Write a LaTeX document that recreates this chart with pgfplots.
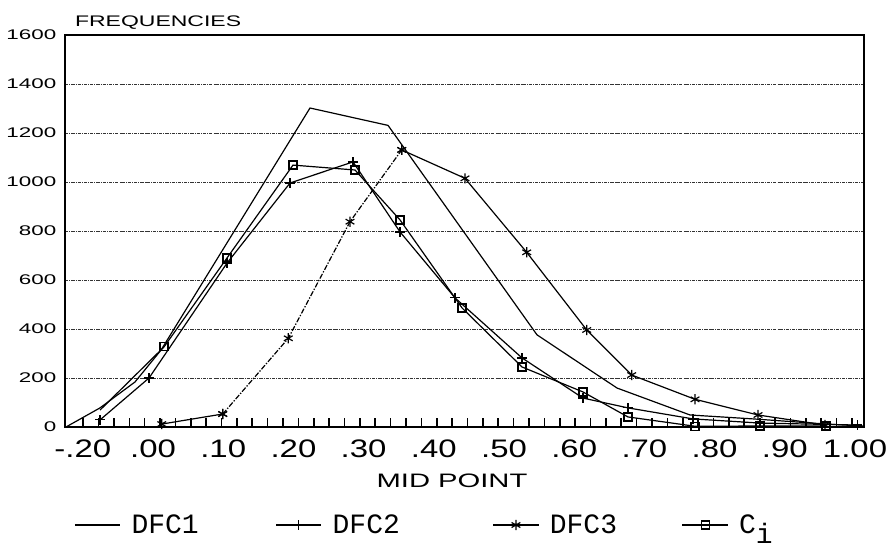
\documentclass[border=0pt]{standalone}
\usepackage{fontspec}
\setmainfont{Liberation Sans}
\newfontfamily\ytfont[FakeStretch=1.6]{Liberation Sans}
\newfontfamily\xtfont[FakeStretch=1.3]{Liberation Sans}
\newfontfamily\lbfont[FakeStretch=1.5]{Liberation Sans}
\newfontfamily\lgfont{Liberation Mono}
\usepackage{pgfplots}
\pgfplotsset{compat=1.18}
\begin{document}
\begin{tikzpicture}
\useasboundingbox (-48.75pt,-91.5pt) rectangle (621pt,320.25pt);
\begin{axis}[
 name=ax, at={(0,0)}, anchor=south west,
 scale only axis, width=599.25pt, height=294pt,
 xmin=-0.1254, xmax=1.0128, ymin=0, ymax=1600,
 xtick={-0.1,0,0.1,0.2,0.3,0.4,0.5,0.6,0.7,0.8,0.9,1.0},
 xticklabels={-.20,.00,.10,.20,.30,.40,.50,.60,.70,.80,.90,1.00},
 ytick={0,200,400,600,800,1000,1200,1400,1600},
 yticklabels={0,200,400,600,800,1000,1200,1400,1600},
 major tick length=0pt, tick align=inside, tick pos=left,
 ymajorgrids,
 grid style={black!80, line width=0.6pt, dash pattern=on 2.5pt off 0.8pt on 0.6pt off 0.8pt},
 axis line style={line width=1.1pt},
 xticklabel style={font=\xtfont\fontsize{19}{19}\selectfont, anchor=base, yshift=-23pt},
 yticklabel style={font=\ytfont\fontsize{10.5}{10.5}\selectfont, xshift=-3pt},
 legend columns=4,
 legend style={at={(0.0113,-0.25)}, anchor=west, draw=none, fill=none,
   font=\lgfont\fontsize{21}{21}\selectfont, inner sep=0pt,
   nodes={inner sep=0pt}, column sep=0pt},
 legend image code/.code={\draw[mark repeat=2,mark phase=2] plot coordinates {(0pt,0pt) (17pt,0pt) (34pt,0pt)};
   \path (42pt,0pt);},
 every axis plot/.append style={black, line width=0.9pt},
]
% small tick marks along the x axis
\addplot[ycomb, mark=none, forget plot, draw=black, line width=1.2pt] coordinates {
(-0.0995,36) (-0.0776,36) (-0.0557,36) (-0.0338,36) (-0.0119,36) (0.0100,36) (0.0319,36)
(0.0538,36) (0.0757,36) (0.0976,36) (0.1195,36) (0.1414,36) (0.1633,36) (0.1852,36)
(0.2071,36) (0.2290,36) (0.2509,36) (0.2728,36) (0.2947,36) (0.3166,36) (0.3385,36)
(0.3604,36) (0.3823,36) (0.4042,36) (0.4261,36) (0.4480,36) (0.4699,36) (0.4918,36)
(0.5137,36) (0.5356,36) (0.5575,36) (0.5794,36) (0.6013,36) (0.6232,36) (0.6451,36)
(0.6670,36) (0.6889,36) (0.7108,36) (0.7327,36) (0.7546,36) (0.7765,36) (0.7984,36)
(0.8203,36) (0.8422,36) (0.8641,36) (0.8860,36) (0.9079,36) (0.9298,36) (0.9517,36)
(0.9736,36) (0.9955,36)};
\addplot[mark=none] coordinates {
(-0.124,0) (-0.0755,78) (-0.0256,184) (0.0114,314) (0.2236,1302) (0.3348,1231)
(0.547,376) (0.661,159) (0.765,49) (0.855,33) (0.959,12) (1.011,4)};
\addlegendentry{\makebox[108pt][l]{DFC1}}
\addplot[mark=+, mark size=3.5pt] coordinates {
(-0.0755,29) (-0.0057,200) (0.1054,669) (0.1952,996) (0.2849,1082) (0.3519,796)
(0.4302,527) (0.5256,282) (0.6125,118) (0.6766,78) (0.7692,33) (0.8647,16) (1.003,8)};
\addlegendentry{\makebox[120pt][l]{DFC2}}
\addplot[mark=asterisk, mark size=3.8pt, forget plot] coordinates {
(0.0124,12) (0.0993,53)};
\addplot[mark=asterisk, mark size=3.8pt, forget plot, mark options={solid},
  dash pattern=on 4pt off 1.2pt on 1pt off 1.2pt] coordinates {
(0.0993,53) (0.1927,362) (0.2806,838) (0.3543,1131)};
\addplot[mark=asterisk, mark size=3.8pt] coordinates {
(0.3543,1131) (0.4444,1015) (0.5323,713) (0.6178,396) (0.6819,212) (0.7721,113)
(0.8618,49) (0.9573,8)};
\addlegendentry{\makebox[99pt][l]{DFC3}}
\addplot[mark=none, forget plot] coordinates {(-0.0755,69) (0.0157,327)};
\addplot[mark=square, mark size=3pt] coordinates {
(0.0157,327) (0.1054,690) (0.1994,1069) (0.2877,1049) (0.3519,845)
(0.4402,486) (0.5256,245) (0.6125,143) (0.6766,41) (0.7721,3) (0.8647,4) (0.9587,4)};
\addlegendentry{C\raisebox{-0.35em}{i}}
\end{axis}
\node[anchor=base west, font=\lbfont\fontsize{11.5}{11.5}\selectfont] at ([shift={(4pt,300pt)}]ax.south west) {FREQUENCIES};
\node[anchor=base, font=\lbfont\fontsize{14.6}{14.6}\selectfont] at ([shift={(290.25pt,-45.75pt)}]ax.south west) {MID POINT};
\end{tikzpicture}
\end{document}
